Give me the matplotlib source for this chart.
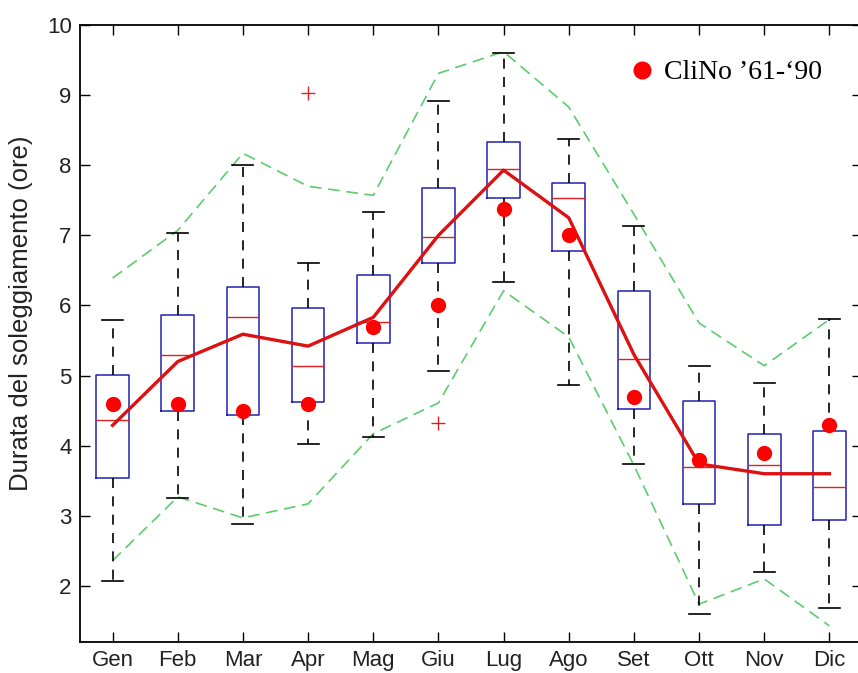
import matplotlib
matplotlib.use("Agg")
import matplotlib.pyplot as plt
from matplotlib.lines import Line2D

months = ['Gen', 'Feb', 'Mar', 'Apr', 'Mag', 'Giu', 'Lug', 'Ago', 'Set', 'Ott', 'Nov', 'Dic']

# box plot statistics (hours of sunshine)
whis_lo = [2.07, 3.26, 2.89, 4.03, 4.13, 5.06, 6.34, 4.86, 3.74, 1.60, 2.20, 1.69]
q1 = [3.54, 4.50, 4.44, 4.63, 5.46, 6.60, 7.53, 6.77, 4.53, 3.17, 2.87, 2.94]
median = [4.37, 5.30, 5.84, 5.14, 5.76, 6.97, 7.95, 7.53, 5.24, 3.70, 3.73, 3.41]
q3 = [5.01, 5.87, 6.26, 5.97, 6.43, 7.67, 8.33, 7.74, 6.20, 4.64, 4.16, 4.21]
whis_hi = [5.79, 7.04, 8.01, 6.61, 7.33, 8.91, 9.60, 8.37, 7.14, 5.14, 4.90, 5.81]
outliers = [[], [], [], [9.03], [], [4.33], [], [], [], [], [], []]

# climatological normals 1961-1990
clino = [4.60, 4.60, 4.49, 4.60, 5.69, 6.00, 7.38, 7.00, 4.70, 3.80, 3.90, 4.29]
# monthly mean
mean_line = [4.29, 5.20, 5.59, 5.42, 5.83, 7.00, 7.93, 7.25, 5.30, 3.74, 3.60, 3.60]
# envelope
upper = [6.39, 7.07, 8.17, 7.70, 7.57, 9.31, 9.62, 8.83, 7.30, 5.75, 5.14, 5.80]
lower = [2.36, 3.27, 2.97, 3.17, 4.17, 4.61, 6.21, 5.55, 3.72, 1.74, 2.10, 1.43]

W, H = 858, 673
fig = plt.figure(figsize=(W / 100, H / 100), dpi=100)
ax = fig.add_axes([80 / W, 31 / H, 782 / W, 617 / H])

pos = list(range(1, len(months) + 1))
stats = []
for i in range(len(months)):
    stats.append(dict(med=median[i], q1=q1[i], q3=q3[i],
                      whislo=whis_lo[i], whishi=whis_hi[i], fliers=outliers[i]))

ax.bxp(stats, positions=pos, widths=0.5, capwidths=0.32,
       boxprops=dict(color='#2020b0', linewidth=1.1),
       medianprops=dict(color='#e02020', linewidth=1.0),
       whiskerprops=dict(color='black', linewidth=1.2, linestyle=(0, (6, 5))),
       capprops=dict(color='black', linewidth=1.2),
       flierprops=dict(marker='+', markeredgecolor='#e02020', markersize=10,
                       markeredgewidth=1.0, linestyle='none'),
       manage_ticks=False)

ax.plot(pos, upper, color='#5ccc6c', linewidth=1.2, linestyle=(0, (7, 4)), zorder=1)
ax.plot(pos, lower, color='#5ccc6c', linewidth=1.2, linestyle=(0, (7, 4)), zorder=1)
ax.plot(pos, mean_line, color='#dd1111', linewidth=2.4, zorder=4)
ax.plot(pos, clino, linestyle='none', marker='o', markersize=10,
        color='#ff0000', markeredgecolor='#ff0000', zorder=5)

ax.set_xlim(0.5, 12.5)
ax.set_ylim(1.2, 10)
ax.set_xticks(pos)
ax.set_xticklabels(months)
ax.set_yticks(range(2, 11))
ax.tick_params(direction='in', length=7, width=1.0, top=True, right=True,
               labelsize=16, colors='black', labelcolor='#222222', pad=6)
for lab in ax.get_xticklabels() + ax.get_yticklabels():
    lab.set_family('Liberation Sans')
for s in ax.spines.values():
    s.set_linewidth(1.3)

ax.set_ylabel('Durata del soleggiamento (ore)', fontsize=18.5,
              family='Liberation Sans', color='#222222')
ax.yaxis.set_label_coords(-0.060, 0.533)

handle = Line2D([], [], linestyle='none', marker='o', markersize=12,
                color='#ff0000')
leg = ax.legend([handle], ['CliNo \u201961-\u201890'], loc='upper left',
                bbox_to_anchor=(603 / W, 1 - 35 / H), bbox_transform=fig.transFigure,
                frameon=False, handletextpad=0.3, handlelength=1.0,
                prop=dict(family='Liberation Serif', size=20))

fig.savefig('out.png', dpi=100, facecolor='white')
